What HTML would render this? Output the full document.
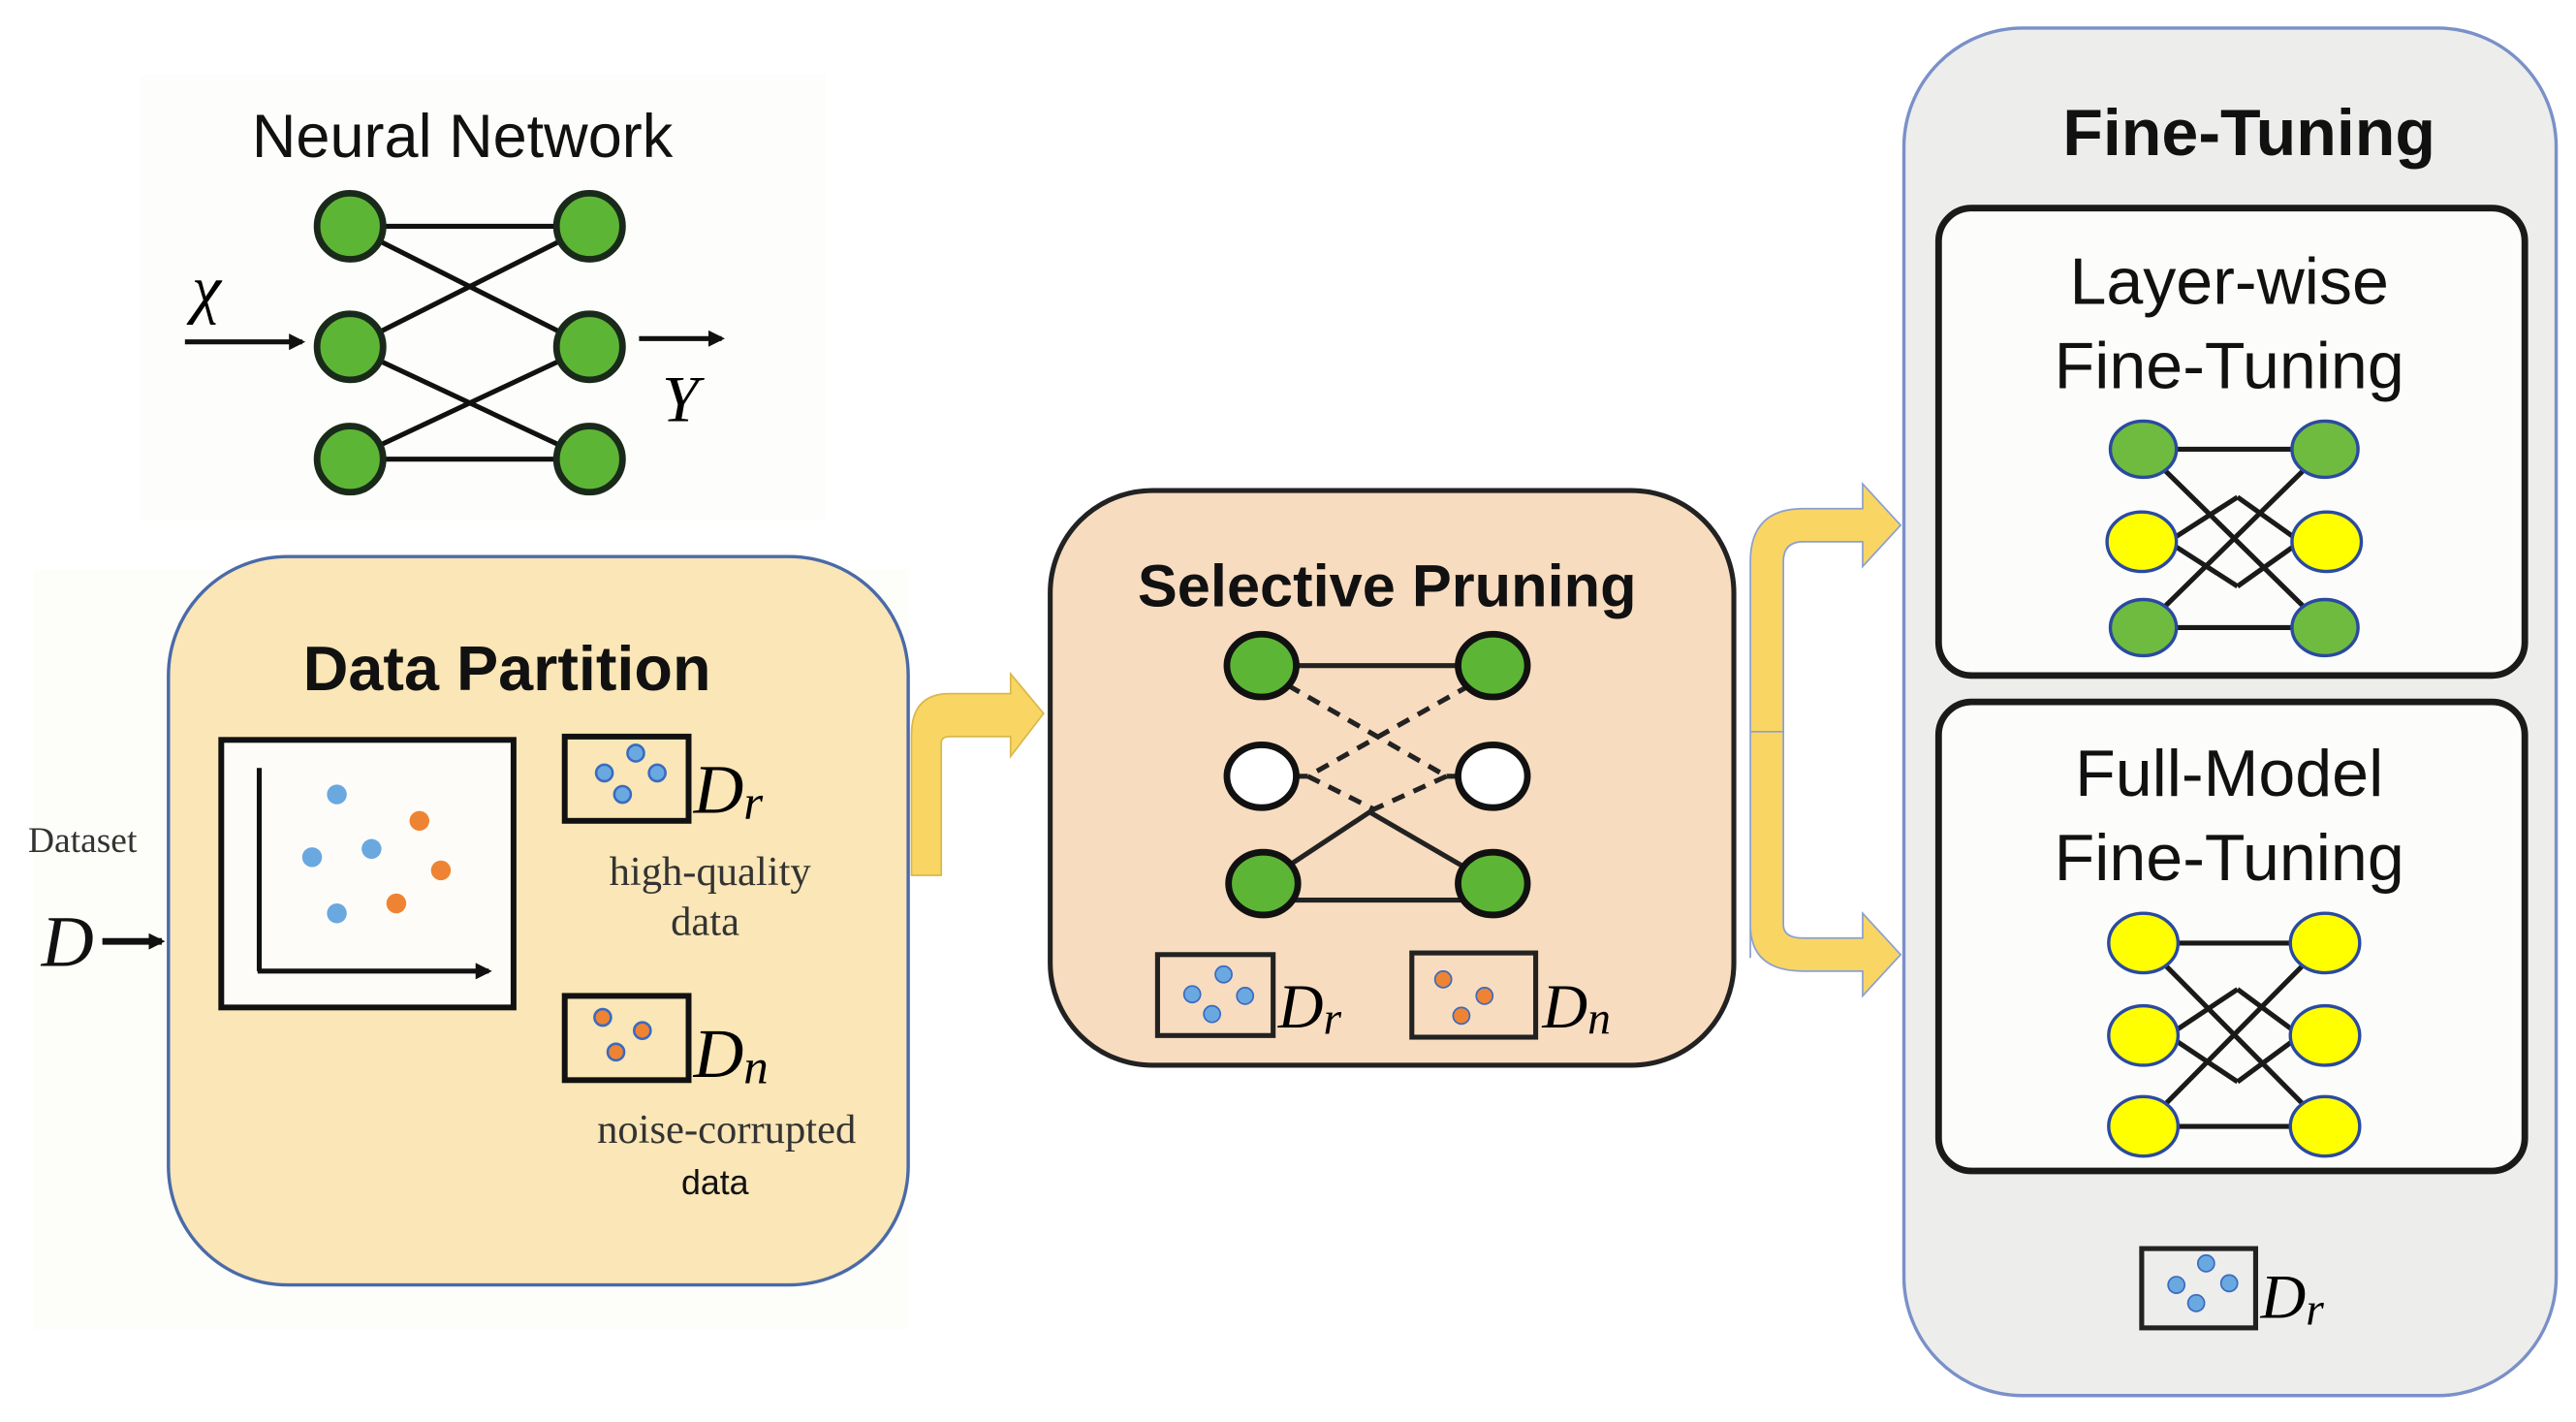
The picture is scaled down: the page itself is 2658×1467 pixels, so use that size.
<!DOCTYPE html>
<html><head><meta charset="utf-8"><style>
html,body{margin:0;padding:0;background:#fff;}
svg{display:block;}
text{font-family:"Liberation Sans",sans-serif;}
.serif{font-family:"Liberation Serif",serif;}
</style></head><body>
<svg width="2658" height="1467" viewBox="0 0 1560 861" preserveAspectRatio="none" xmlns="http://www.w3.org/2000/svg">
<defs>
<marker id="ah" markerWidth="10" markerHeight="10" refX="8" refY="5" orient="auto" markerUnits="userSpaceOnUse"><path d="M0,0 L10,5 L0,10 Z" fill="#111"/></marker>
</defs>
<rect width="1560" height="861" fill="#fff"/>
<rect x="85" y="45" width="415" height="270" fill="#fdfdfb"/>
<rect x="20" y="345" width="530" height="460" fill="#fdfdfa"/>

<!-- Neural Network -->
<text x="280" y="95" font-size="37" text-anchor="middle" fill="#111">Neural Network</text>
<g stroke="#111" stroke-width="3" fill="none">
<line x1="212" y1="137" x2="357" y2="137"/><line x1="212" y1="278" x2="357" y2="278"/>
<line x1="212" y1="137" x2="357" y2="210"/><line x1="212" y1="210" x2="357" y2="137"/>
<line x1="212" y1="210" x2="357" y2="278"/><line x1="212" y1="278" x2="357" y2="210"/>
<line x1="112" y1="207" x2="183" y2="207" marker-end="url(#ah)"/>
<line x1="387" y1="205" x2="437" y2="205" marker-end="url(#ah)"/>
</g>
<g fill="#5db535" stroke="#1a2a1a" stroke-width="4">
<ellipse cx="212" cy="137" rx="20" ry="20"/><ellipse cx="212" cy="210" rx="20" ry="20"/><ellipse cx="212" cy="278" rx="20" ry="20"/>
<ellipse cx="357" cy="137" rx="20" ry="20"/><ellipse cx="357" cy="210" rx="20" ry="20"/><ellipse cx="357" cy="278" rx="20" ry="20"/>
</g>
<text x="125" y="188" font-size="40" font-style="italic" class="serif" text-anchor="middle">χ</text>
<text x="412" y="255" font-size="40" font-style="italic" class="serif" text-anchor="middle">Y</text>

<!-- Data Partition -->
<rect x="102" y="337" width="448" height="441" rx="72" fill="#fae6b6" stroke="#4a6aa8" stroke-width="2"/>
<text x="307" y="418" font-size="38" font-weight="bold" text-anchor="middle" fill="#111">Data Partition</text>
<rect x="134" y="448" width="177" height="162" fill="#fdfcf8" stroke="#111" stroke-width="3.5"/>
<g stroke="#111" stroke-width="3" fill="none">
<line x1="157" y1="465" x2="157" y2="588"/><line x1="156" y1="588" x2="296" y2="588" marker-end="url(#ah)"/>
</g>
<g fill="#6aa8e0"><circle cx="204" cy="481" r="6"/><circle cx="189" cy="519" r="6"/><circle cx="225" cy="514" r="6"/><circle cx="204" cy="553" r="6"/></g>
<g fill="#ee8433"><circle cx="254" cy="497" r="6"/><circle cx="267" cy="527" r="6"/><circle cx="240" cy="547" r="6"/></g>
<rect x="342" y="446" width="75" height="51" fill="none" stroke="#111" stroke-width="3.5"/>
<g fill="#6aa8e0" stroke="#3a6ac0" stroke-width="1.5"><circle cx="385" cy="456" r="5"/><circle cx="366" cy="468" r="5"/><circle cx="398" cy="468" r="5"/><circle cx="377" cy="481" r="5"/></g>
<text x="420" y="492" font-size="42" font-style="italic" class="serif">D<tspan font-size="30" dy="4">r</tspan></text>
<text x="430" y="536" font-size="25" class="serif" text-anchor="middle" fill="#333">high-quality</text>
<text x="427" y="566" font-size="25" class="serif" text-anchor="middle" fill="#333">data</text>
<rect x="342" y="603" width="75" height="51" fill="none" stroke="#111" stroke-width="3.5"/>
<g fill="#ee8433" stroke="#3a6ac0" stroke-width="1.5"><circle cx="365" cy="616" r="5"/><circle cx="389" cy="624" r="5"/><circle cx="373" cy="637" r="5"/></g>
<text x="420" y="652" font-size="42" font-style="italic" class="serif">D<tspan font-size="30" dy="4">n</tspan></text>
<text x="440" y="692" font-size="25" class="serif" text-anchor="middle" fill="#333">noise-corrupted</text>
<text x="433" y="723" font-size="21" text-anchor="middle" fill="#111">data</text>
<text x="50" y="516" font-size="22" class="serif" text-anchor="middle" fill="#333">Dataset</text>
<text x="25" y="585" font-size="44" font-style="italic" class="serif" fill="#111">D</text>
<line x1="62" y1="570" x2="98" y2="570" stroke="#111" stroke-width="4" marker-end="url(#ah)"/>

<!-- yellow arrow 1 -->
<path d="M552,530 L570,530 L570,450 Q570,446 575,446 L612,446 L612,458 L632,432 L612,408 L612,420 L575,420 Q552,420 552,445 Z" fill="#f9d564" stroke="#d9b84a" stroke-width="1"/>

<!-- Selective Pruning -->
<rect x="636" y="297" width="414" height="348" rx="62" fill="#f8dcbf" stroke="#222" stroke-width="3"/>
<text x="840" y="367" font-size="36" font-weight="bold" text-anchor="middle" fill="#111">Selective Pruning</text>
<g stroke="#222" stroke-width="3" fill="none">
<line x1="764" y1="403" x2="904" y2="403"/><line x1="764" y1="545" x2="904" y2="545"/>
<line x1="764" y1="470" x2="792" y2="470"/><line x1="876" y1="470" x2="904" y2="470"/>
<line x1="830" y1="492" x2="904" y2="535"/><line x1="764" y1="535" x2="832" y2="490"/>
</g>
<g stroke="#222" stroke-width="3" fill="none" stroke-dasharray="8,6">
<line x1="780" y1="415" x2="876" y2="470"/><line x1="890" y1="415" x2="792" y2="470"/>
<line x1="792" y1="470" x2="832" y2="490"/><line x1="876" y1="470" x2="832" y2="490"/>
</g>
<g stroke="#111" stroke-width="4">
<ellipse cx="764" cy="403" rx="21" ry="19" fill="#5db535"/><ellipse cx="904" cy="403" rx="21" ry="19" fill="#5db535"/>
<ellipse cx="764" cy="470" rx="21" ry="19" fill="#fff"/><ellipse cx="904" cy="470" rx="21" ry="19" fill="#fff"/>
<ellipse cx="765" cy="535" rx="21" ry="19" fill="#5db535"/><ellipse cx="904" cy="535" rx="21" ry="19" fill="#5db535"/>
</g>
<rect x="701" y="578" width="70" height="49" fill="none" stroke="#222" stroke-width="3"/>
<g fill="#6aa8e0" stroke="#3a6ac0" stroke-width="1"><circle cx="741" cy="590" r="5"/><circle cx="722" cy="602" r="5"/><circle cx="754" cy="603" r="5"/><circle cx="734" cy="614" r="5"/></g>
<text x="774" y="622" font-size="38" font-style="italic" class="serif">D<tspan font-size="28" dy="4">r</tspan></text>
<rect x="855" y="577" width="75" height="51" fill="none" stroke="#222" stroke-width="3"/>
<g fill="#ee8433" stroke="#3a6ac0" stroke-width="1"><circle cx="874" cy="593" r="5"/><circle cx="899" cy="603" r="5"/><circle cx="885" cy="615" r="5"/></g>
<text x="934" y="622" font-size="38" font-style="italic" class="serif">D<tspan font-size="28" dy="4">n</tspan></text>

<!-- yellow arrows 2 -->
<path d="M1060,580 L1060,340 Q1060,308 1092,308 L1128,308 L1128,293 L1151,318 L1128,343 L1128,328 L1092,328 Q1080,328 1080,340 L1080,560 Q1080,568 1092,568 L1128,568 L1128,553 L1151,578 L1128,603 L1128,588 L1092,588 Q1060,588 1060,560 Z" fill="#f9d564" stroke="#8aa0d0" stroke-width="1"/>
<line x1="1060" y1="443" x2="1080" y2="443" stroke="#8aa0d0" stroke-width="1"/>

<!-- Fine-Tuning -->
<rect x="1153" y="17" width="395" height="828" rx="72" fill="#ededec" stroke="#7a90c8" stroke-width="2"/>
<text x="1362" y="94" font-size="40" font-weight="bold" text-anchor="middle" fill="#111">Fine-Tuning</text>
<rect x="1174" y="126" width="355" height="283" rx="20" fill="#fcfcfa" stroke="#1a1a1a" stroke-width="4"/>
<text x="1350" y="184" font-size="40" text-anchor="middle" fill="#111">Layer-wise</text>
<text x="1350" y="235" font-size="40" text-anchor="middle" fill="#111">Fine-Tuning</text>
<g stroke="#1a1a1a" stroke-width="3" fill="none">
<line x1="1298" y1="272" x2="1408" y2="272"/><line x1="1298" y1="380" x2="1408" y2="380"/>
<line x1="1298" y1="272" x2="1408" y2="380"/><line x1="1298" y1="380" x2="1408" y2="272"/>
<line x1="1298" y1="328" x2="1390" y2="328" stroke-width="0"/>
<line x1="1300" y1="328" x2="1356" y2="300" stroke-width="0"/>
<path d="M1298,328 L1313,328 L1355,301 M1313,328 L1355,355 M1408,328 L1393,328 L1355,301 M1393,328 L1355,355"/>
</g>
<g stroke="#2a4aa0" stroke-width="2">
<ellipse cx="1298" cy="272" rx="20" ry="17" fill="#6fbb3f"/><ellipse cx="1408" cy="272" rx="20" ry="17" fill="#6fbb3f"/>
<ellipse cx="1297" cy="328" rx="21" ry="18" fill="#ffff00"/><ellipse cx="1409" cy="328" rx="21" ry="18" fill="#ffff00"/>
<ellipse cx="1298" cy="380" rx="20" ry="17" fill="#6fbb3f"/><ellipse cx="1408" cy="380" rx="20" ry="17" fill="#6fbb3f"/>
</g>
<rect x="1174" y="425" width="355" height="284" rx="20" fill="#fcfcfa" stroke="#1a1a1a" stroke-width="4"/>
<text x="1350" y="482" font-size="40" text-anchor="middle" fill="#111">Full-Model</text>
<text x="1350" y="533" font-size="40" text-anchor="middle" fill="#111">Fine-Tuning</text>
<g stroke="#1a1a1a" stroke-width="3" fill="none">
<line x1="1298" y1="571" x2="1408" y2="571"/><line x1="1298" y1="682" x2="1408" y2="682"/>
<line x1="1298" y1="571" x2="1408" y2="682"/><line x1="1298" y1="682" x2="1408" y2="571"/>
<path d="M1298,627 L1313,627 L1355,599 M1313,627 L1355,655 M1408,627 L1393,627 L1355,599 M1393,627 L1355,655"/>
</g>
<g stroke="#2a4aa0" stroke-width="2" fill="#ffff00">
<ellipse cx="1298" cy="571" rx="21" ry="18"/><ellipse cx="1408" cy="571" rx="21" ry="18"/>
<ellipse cx="1298" cy="627" rx="21" ry="18"/><ellipse cx="1408" cy="627" rx="21" ry="18"/>
<ellipse cx="1298" cy="682" rx="21" ry="18"/><ellipse cx="1408" cy="682" rx="21" ry="18"/>
</g>
<rect x="1297" y="756" width="69" height="48" fill="none" stroke="#222" stroke-width="3"/>
<g fill="#6aa8e0" stroke="#3a6ac0" stroke-width="1"><circle cx="1336" cy="765" r="5"/><circle cx="1318" cy="778" r="5"/><circle cx="1350" cy="777" r="5"/><circle cx="1330" cy="789" r="5"/></g>
<text x="1369" y="798" font-size="38" font-style="italic" class="serif">D<tspan font-size="28" dy="4">r</tspan></text>
</svg>
</body></html>
